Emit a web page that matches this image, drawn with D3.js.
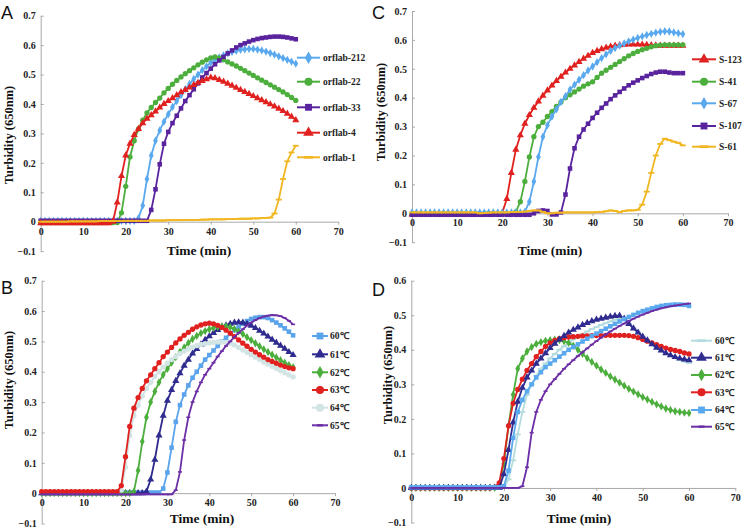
<!DOCTYPE html>
<html><head><meta charset="utf-8">
<script src="https://cdn.jsdelivr.net/npm/d3@7"></script>
<style>body{margin:0;background:#fff}svg{display:block}</style>
</head><body>
<svg id="c" width="743" height="529"></svg>
<script>
// ---------------- DATA ----------------
const minutes = [0,1,2,3,4,5,6,7,8,9,10,11,12,13,14,15,16,17,18,19,20,21,22,23,24,25,26,27,28,29,30,
  31,32,33,34,35,36,37,38,39,40,41,42,43,44,45,46,47,48,49,50,51,52,53,54,55,56,57,58,59,60];
const xTicks = [0,10,20,30,40,50,60,70];
const yTicks7 = [-0.1,0,0.1,0.2,0.3,0.4,0.5,0.6,0.7];
const yTicks6 = [-0.1,0,0.1,0.2,0.3,0.4,0.5,0.6];

// Panel A
const namesA = ["orflab-212","orflab-22","orflab-33","orflab-4","orflab-1"];
const a212 = [0.003,0.003,0.003,0.003,0.003,0.003,0.003,0.003,0.003,0.003,
  0.003,0.003,0.003,0.003,0.003,0.003,0.003,0.003,0.003,0.003,
  0.003,0.003,0.003,0.012,0.055,0.145,0.225,0.275,0.31,0.34,
  0.365,0.39,0.41,0.43,0.45,0.468,0.485,0.5,0.515,0.528,
  0.54,0.55,0.558,0.565,0.572,0.577,0.581,0.584,0.586,0.587,
  0.587,0.585,0.582,0.578,0.573,0.568,0.562,0.556,0.55,0.544,0.537];
const a22 = [-0.003,-0.003,-0.003,-0.003,-0.003,-0.003,-0.003,-0.003,-0.003,-0.003,
  -0.003,-0.003,-0.003,-0.003,-0.003,-0.003,-0.003,-0.003,-0.003,0.03,
  0.12,0.22,0.275,0.315,0.345,0.37,0.388,0.405,0.42,0.438,
  0.453,0.467,0.48,0.492,0.503,0.513,0.523,0.533,0.542,0.55,
  0.557,0.56,0.556,0.55,0.543,0.536,0.529,0.521,0.513,0.505,
  0.497,0.489,0.481,0.473,0.465,0.457,0.449,0.441,0.432,0.422,0.412];
const a33 = [0.003,0.003,0.003,0.003,0.003,0.003,0.003,0.003,0.003,0.003,
  0.003,0.003,0.003,0.003,0.003,0.003,0.003,0.003,0.003,0.003,
  0.003,0.003,0.003,0.003,0.003,0.003,0.04,0.11,0.195,0.265,
  0.305,0.335,0.36,0.385,0.41,0.43,0.45,0.47,0.49,0.505,
  0.52,0.535,0.548,0.56,0.572,0.582,0.592,0.6,0.606,0.612,
  0.617,0.621,0.624,0.626,0.628,0.629,0.629,0.628,0.626,0.623,0.62];
const a4 = [-0.005,-0.005,-0.005,-0.005,-0.005,-0.005,-0.005,-0.005,-0.005,-0.005,
  -0.005,-0.005,-0.005,-0.005,-0.005,-0.005,-0.005,0.0,0.065,0.155,
  0.225,0.265,0.295,0.315,0.335,0.35,0.362,0.375,0.388,0.4,
  0.41,0.42,0.43,0.44,0.448,0.456,0.465,0.472,0.478,0.484,
  0.49,0.488,0.482,0.476,0.469,0.462,0.455,0.448,0.441,0.434,
  0.427,0.42,0.413,0.406,0.399,0.392,0.384,0.376,0.367,0.357,0.345];
const a1 = [0,0,0,0,0,0,0,0.001,0.001,0.001,
  0.001,0.001,0.001,0.001,0.002,0.002,0.002,0.002,0.002,0.002,
  0.003,0.003,0.003,0.003,0.003,0.003,0.004,0.004,0.004,0.004,
  0.005,0.005,0.005,0.005,0.006,0.006,0.006,0.006,0.007,0.007,
  0.008,0.008,0.008,0.008,0.009,0.009,0.009,0.01,0.01,0.01,
  0.011,0.011,0.012,0.013,0.014,0.028,0.075,0.145,0.205,0.235,0.258];

// Panel C
const namesC = ["S-123","S-41","S-67","S-107","S-61"];
const c123 = [-0.004,-0.004,-0.004,-0.004,-0.004,-0.004,-0.004,-0.004,-0.004,-0.004,
  -0.004,-0.004,-0.004,-0.004,-0.004,-0.004,-0.004,-0.004,-0.004,-0.004,
  0.002,0.05,0.14,0.22,0.27,0.31,0.34,0.365,0.387,0.407,
  0.425,0.442,0.458,0.473,0.487,0.5,0.512,0.524,0.535,0.545,
  0.555,0.562,0.568,0.573,0.577,0.58,0.582,0.583,0.584,0.584,
  0.584,0.584,0.583,0.582,0.581,0.58,0.58,0.58,0.58,0.58,0.58];
const c41 = [-0.002,-0.002,-0.002,-0.002,-0.002,-0.002,-0.002,-0.002,-0.002,-0.002,
  -0.002,-0.002,-0.002,-0.002,-0.002,-0.002,-0.002,-0.002,-0.002,-0.002,
  -0.002,-0.002,-0.002,0.005,0.04,0.11,0.195,0.265,0.3,0.315,
  0.335,0.352,0.37,0.385,0.4,0.41,0.42,0.43,0.44,0.448,
  0.455,0.47,0.485,0.495,0.505,0.515,0.525,0.535,0.545,0.553,
  0.56,0.566,0.571,0.576,0.58,0.582,0.583,0.583,0.583,0.583,0.583];
const c67 = [0.003,0.003,0.003,0.003,0.003,0.003,0.003,0.003,0.003,0.003,
  0.003,0.003,0.003,0.003,0.003,0.003,0.003,0.003,0.003,0.003,
  0.003,0.003,0.003,0.003,0.003,0.005,0.04,0.11,0.195,0.265,
  0.305,0.335,0.36,0.385,0.405,0.428,0.445,0.462,0.478,0.494,
  0.508,0.523,0.537,0.55,0.562,0.572,0.58,0.588,0.595,0.601,
  0.607,0.612,0.617,0.621,0.625,0.628,0.63,0.629,0.626,0.623,0.62];
const c107 = [-0.005,-0.005,-0.005,-0.005,-0.005,-0.005,-0.005,-0.005,-0.005,-0.005,
  -0.005,-0.005,-0.005,-0.005,-0.005,-0.005,-0.005,-0.005,-0.005,-0.005,
  -0.005,-0.005,-0.005,-0.005,-0.005,-0.005,-0.005,0.0,0.008,0.01,
  0.008,-0.004,-0.004,0.003,0.065,0.155,0.225,0.265,0.29,0.31,
  0.33,0.348,0.365,0.38,0.395,0.408,0.42,0.432,0.443,0.452,
  0.46,0.468,0.475,0.482,0.487,0.49,0.49,0.487,0.485,0.485,0.485];
const c61 = [0.003,0.003,0.003,0.003,0.003,0.003,0.003,0.003,0.003,0.003,
  0.003,0.003,0.003,0.003,0.003,0.0,0.001,0.002,0.003,0.003,
  0.003,0.003,0.004,0.004,0.005,0.006,0.008,0.01,0.01,0.005,
  0.0,0.0,0.002,0.002,0.003,0.003,0.003,0.003,0.003,0.003,
  0.003,0.004,0.005,0.007,0.01,0.008,0.004,0.008,0.01,0.01,
  0.012,0.03,0.075,0.14,0.2,0.24,0.258,0.253,0.248,0.244,0.235];

// Panel B
const namesB = ["60℃","61℃","62℃","63℃","64℃","65℃"];
const b60 = [0.002,0.002,0.002,0.002,0.002,0.002,0.002,0.002,0.002,0.002,
  0.002,0.002,0.002,0.002,0.002,0.002,0.002,0.002,0.002,0.002,
  0.002,0.002,0.002,0.002,0.002,0.002,0.002,0.002,0.002,0.015,
  0.068,0.15,0.235,0.29,0.325,0.355,0.38,0.4,0.42,0.44,
  0.455,0.47,0.485,0.5,0.512,0.525,0.537,0.548,0.558,0.567,
  0.574,0.578,0.58,0.58,0.577,0.57,0.562,0.553,0.543,0.532,0.52];
const b61 = [0,0,0,0,0,0,0,0,0,0,
  0,0,0,0,0,0,0,0,0,0,
  0,0,0,0,0,0.005,0.045,0.11,0.19,0.255,
  0.305,0.34,0.37,0.395,0.42,0.44,0.46,0.475,0.49,0.505,
  0.517,0.528,0.538,0.546,0.553,0.558,0.562,0.563,0.562,0.558,
  0.552,0.544,0.535,0.526,0.516,0.506,0.496,0.486,0.476,0.465,0.455];
const b62 = [0,0,0,0,0,0,0,0,0,0,
  0,0,0,0,0,0,0,0,0,0,
  0,0,0.005,0.075,0.17,0.25,0.3,0.335,0.365,0.39,
  0.41,0.43,0.448,0.465,0.48,0.495,0.508,0.518,0.527,0.534,
  0.54,0.545,0.548,0.55,0.55,0.547,0.541,0.533,0.524,0.514,
  0.504,0.494,0.484,0.474,0.465,0.456,0.447,0.438,0.43,0.422,0.415];
const b63 = [0.005,0.005,0.005,0.005,0.005,0.005,0.005,0.005,0.005,0.005,
  0.005,0.005,0.005,0.005,0.005,0.005,0.005,0.005,0.005,0.025,
  0.12,0.22,0.28,0.315,0.345,0.37,0.39,0.41,0.43,0.45,
  0.465,0.48,0.495,0.508,0.52,0.53,0.54,0.548,0.554,0.558,
  0.56,0.558,0.553,0.546,0.537,0.527,0.516,0.505,0.494,0.484,
  0.474,0.465,0.456,0.448,0.44,0.434,0.428,0.422,0.417,0.413,0.41];
const b64 = [0.005,0.005,0.005,0.005,0.005,0.005,0.005,0.005,0.005,0.005,
  0.005,0.005,0.005,0.005,0.005,0.005,0.005,0.005,0.005,0.01,
  0.085,0.19,0.255,0.29,0.32,0.345,0.365,0.385,0.4,0.415,
  0.428,0.44,0.45,0.46,0.468,0.475,0.481,0.486,0.49,0.493,
  0.495,0.497,0.498,0.498,0.497,0.494,0.488,0.48,0.472,0.464,
  0.456,0.448,0.44,0.432,0.425,0.418,0.411,0.404,0.397,0.39,0.383];
const b65 = [-0.004,-0.004,-0.004,-0.004,-0.004,-0.004,-0.004,-0.004,-0.004,-0.004,
  -0.004,-0.004,-0.004,-0.004,-0.004,-0.004,-0.004,-0.004,-0.004,-0.004,
  -0.004,-0.004,-0.004,-0.004,-0.004,-0.004,-0.004,-0.004,-0.004,-0.004,
  -0.004,-0.004,0.01,0.07,0.175,0.25,0.3,0.335,0.365,0.39,
  0.41,0.43,0.45,0.468,0.485,0.5,0.515,0.528,0.54,0.552,
  0.562,0.57,0.577,0.582,0.585,0.587,0.586,0.583,0.577,0.568,0.556];

// Panel D
const namesD = ["60℃","61℃","62℃","63℃","64℃","65℃"];
const d60 = [0.002,0.002,0.002,0.002,0.002,0.002,0.002,0.002,0.002,0.002,
  0.002,0.002,0.002,0.002,0.002,0.002,0.002,0.002,0.002,0.002,
  0.002,0.025,0.08,0.155,0.22,0.27,0.3,0.325,0.345,0.36,
  0.375,0.388,0.4,0.41,0.42,0.43,0.438,0.446,0.453,0.46,
  0.466,0.472,0.477,0.482,0.487,0.49,0.486,0.475,0.462,0.45,
  0.438,0.427,0.416,0.406,0.397,0.389,0.382,0.376,0.371,0.366,0.362];
const d61 = [0,0,0,0,0,0,0,0,0,0,
  0,0,0,0,0,0,0,0,0,0,
  0.04,0.11,0.19,0.25,0.29,0.32,0.34,0.36,0.375,0.39,
  0.405,0.418,0.43,0.44,0.45,0.458,0.465,0.472,0.478,0.483,
  0.487,0.49,0.493,0.496,0.498,0.499,0.49,0.475,0.462,0.45,
  0.438,0.427,0.416,0.406,0.398,0.39,0.384,0.379,0.375,0.372,0.37];
const d62 = [0,0,0,0,0,0,0,0,0,0,
  0,0,0,0,0,0,0,0,0,0.01,
  0.07,0.18,0.27,0.345,0.375,0.395,0.408,0.417,0.422,0.426,
  0.428,0.429,0.428,0.425,0.42,0.412,0.4,0.388,0.376,0.365,
  0.354,0.343,0.333,0.323,0.314,0.305,0.296,0.287,0.279,0.271,
  0.263,0.256,0.249,0.242,0.236,0.23,0.226,0.222,0.22,0.218,0.217];
const d63 = [0,0,0,0,0,0,0,0,0,0,
  0,0,0,0,0,0,0,0,0.002,0.015,
  0.085,0.18,0.245,0.285,0.315,0.34,0.36,0.38,0.395,0.41,
  0.42,0.427,0.432,0.435,0.437,0.438,0.439,0.44,0.44,0.441,
  0.441,0.441,0.442,0.442,0.442,0.442,0.442,0.441,0.439,0.435,
  0.43,0.425,0.42,0.415,0.41,0.405,0.401,0.398,0.395,0.391,0.388];
const d64 = [0.002,0.002,0.002,0.002,0.002,0.002,0.002,0.002,0.002,0.002,
  0.002,0.002,0.002,0.002,0.002,0.002,0.002,0.002,0.002,0.002,
  0.005,0.05,0.145,0.22,0.255,0.28,0.3,0.32,0.335,0.35,
  0.36,0.37,0.38,0.39,0.4,0.408,0.416,0.424,0.432,0.44,
  0.447,0.454,0.461,0.468,0.475,0.482,0.489,0.495,0.501,0.507,
  0.512,0.516,0.52,0.524,0.527,0.529,0.53,0.531,0.531,0.53,0.527];
const d65 = [0,0,0,0,0,0,0,0,0,0,
  0,0,0,0,0,0,0,0,0,0,
  0,0,0,0,0.005,0.06,0.16,0.22,0.255,0.28,
  0.3,0.315,0.33,0.345,0.358,0.37,0.382,0.393,0.404,0.415,
  0.425,0.435,0.444,0.453,0.461,0.469,0.476,0.483,0.49,0.496,
  0.502,0.507,0.512,0.516,0.52,0.523,0.526,0.528,0.53,0.532,0.534];

// ---------------- STYLE / LAYOUT ----------------
const COL = {
  lblue:"#5aa9ef", green:"#4cae3c", violet:"#5a239e", red:"#e0211f", yellow:"#f1b722",
  navy:"#2f2b8f", pale:"#d2e4e4", cyan:"#b4dcdf", purple:"#6c2fa6", sqblue:"#5ba3ea"
};

const panels = [
  { letter:"A", lx:1, ly:19, x0:40.7, x70:338.3, yTop:15.7, yBot:251.1, yMax:0.7, yTicks:yTicks7,
    xTitle:[199,255], yTitle:[9,135],
    legend:{x1:297, x2:320, tx:323, rows:[57.7,81.7,107.3,132.7,157.3]},
    series:[
      {name:namesA[0], v:a212, color:COL.lblue, mk:"diamond"},
      {name:namesA[1], v:a22, color:COL.green, mk:"circle"},
      {name:namesA[2], v:a33, color:COL.violet, mk:"square"},
      {name:namesA[3], v:a4, color:COL.red, mk:"triangle"},
      {name:namesA[4], v:a1, color:COL.yellow, mk:"dash"} ]},
  { letter:"C", lx:372, ly:19, x0:412, x70:728, yTop:11, yBot:242.2, yMax:0.7, yTicks:yTicks7,
    xTitle:[550,255], yTitle:[381,112],
    legend:{x1:692, x2:716, tx:719, rows:[59.3,81.7,103.3,126,146.7]},
    series:[
      {name:namesC[0], v:c123, color:COL.red, mk:"triangle"},
      {name:namesC[1], v:c41, color:COL.green, mk:"circle"},
      {name:namesC[2], v:c67, color:COL.lblue, mk:"diamond"},
      {name:namesC[3], v:c107, color:COL.violet, mk:"square"},
      {name:namesC[4], v:c61, color:COL.yellow, mk:"dash"} ]},
  { letter:"B", lx:1, ly:294, x0:41.7, x70:335, yTop:280.7, yBot:523.5, yMax:0.7, yTicks:yTicks7,
    xTitle:[202,523], yTitle:[9,380],
    legend:{x1:312, x2:328, tx:330, rows:[336,354.3,372.3,390,407.7,425.3]},
    series:[
      {name:namesB[0], v:b60, color:COL.sqblue, mk:"square"},
      {name:namesB[1], v:b61, color:COL.navy, mk:"triangle"},
      {name:namesB[2], v:b62, color:COL.green, mk:"diamond"},
      {name:namesB[4], v:b64, color:COL.pale, mk:"circle"},
      {name:namesB[3], v:b63, color:COL.red, mk:"circle"},
      {name:namesB[5], v:b65, color:COL.purple, mk:"tick"} ],
    legendOrder:[0,1,2,4,3,5]},
  { letter:"D", lx:372, ly:296, x0:411.3, x70:735.3, yTop:280.7, yBot:522.5, yMax:0.6, yTicks:yTicks6,
    xTitle:[579,523], yTitle:[388,375],
    legend:{x1:691, x2:712, tx:715, rows:[340.7,357.7,375,392.3,410,426.7]},
    series:[
      {name:namesD[0], v:d60, color:COL.cyan, mk:"dash"},
      {name:namesD[2], v:d62, color:COL.green, mk:"diamond"},
      {name:namesD[3], v:d63, color:COL.red, mk:"circle"},
      {name:namesD[1], v:d61, color:COL.navy, mk:"triangle"},
      {name:namesD[4], v:d64, color:COL.lblue, mk:"square"},
      {name:namesD[5], v:d65, color:COL.purple, mk:"tick"} ],
    legendOrder:[0,3,1,2,4,5]}
];

const svg = d3.select("#c");
const SERIF = "'Liberation Serif','Times New Roman',serif";

function marker(g, mk, color, big) {
  const s = big ? 1.5 : 1;
  if (mk === "dash") {
    return g.append("rect").attr("x",-3*s).attr("y",-0.9*s).attr("width",6*s).attr("height",1.8*s).attr("fill",color);
  }
  if (mk === "tick") {
    return g.append("rect").attr("x",-2*s).attr("y",-0.8*s).attr("width",4*s).attr("height",1.6*s).attr("fill",color);
  }
  const types = {circle:d3.symbolCircle, square:d3.symbolSquare, triangle:d3.symbolTriangle, diamond:d3.symbolDiamond};
  const sizes = {circle:22, square:21, triangle:22, diamond:20};
  return g.append("path").attr("d", d3.symbol().type(types[mk]).size(sizes[mk]*s*s)()).attr("fill",color);
}

panels.forEach(p => {
  const x = d3.scaleLinear().domain([0,70]).range([p.x0, p.x70]);
  const y = d3.scaleLinear().domain([-0.1, p.yMax]).range([p.yBot, p.yTop]);
  const g = svg.append("g");

  // axes
  const yAxis = d3.axisLeft(y).tickValues(p.yTicks).tickSizeInner(-3).tickSizeOuter(0).tickPadding(5)
    .tickFormat(d => Math.abs(d) < 1e-9 ? "0" : d3.format(".1f")(d));
  const ya = g.append("g").attr("transform",`translate(${p.x0},0)`).call(yAxis);
  const xAxis = d3.axisBottom(x).tickValues(xTicks).tickSizeInner(3).tickSizeOuter(0).tickPadding(3);
  const xa = g.append("g").attr("transform",`translate(0,${y(0)})`).call(xAxis);
  [ya, xa].forEach(a => {
    a.attr("font-family", null);
    a.select(".domain").attr("stroke","#a9a9a9").attr("stroke-width",1);
    a.selectAll(".tick line").attr("stroke","#a9a9a9");
    a.selectAll("text").style("font-family",SERIF).style("font-weight","bold").style("font-size","10px").attr("fill","#222");
  });

  // series
  const line = d3.line().x((d,i)=>x(minutes[i])).y(d=>y(d));
  p.series.forEach(s => {
    const sg = g.append("g");
    sg.append("path").attr("d", line(s.v)).attr("fill","none").attr("stroke",s.color).attr("stroke-width",1.8);
    s.v.forEach((v,i) => {
      const mg = sg.append("g").attr("transform",`translate(${x(minutes[i])},${y(v)})`);
      marker(mg, s.mk, s.color, false);
    });
  });

  // legend
  const order = p.legendOrder || p.series.map((d,i)=>i);
  order.forEach((si, k) => {
    const s = p.series[si];
    const ry = p.legend.rows[k];
    g.append("line").attr("x1",p.legend.x1).attr("x2",p.legend.x2).attr("y1",ry).attr("y2",ry)
      .attr("stroke",s.color).attr("stroke-width",2);
    const mg = g.append("g").attr("transform",`translate(${(p.legend.x1+p.legend.x2)/2},${ry})`);
    marker(mg, s.mk, s.color, true);
    g.append("text").attr("x",p.legend.tx).attr("y",ry).attr("dy","0.35em")
      .style("font-family",SERIF).style("font-weight","bold").style("font-size","9.5px").attr("fill","#222").text(s.name);
  });

  // titles
  g.append("text").attr("x",p.xTitle[0]).attr("y",p.xTitle[1]).attr("text-anchor","middle")
    .style("font-family",SERIF).style("font-weight","bold").style("font-size","13.5px").attr("fill","#111").text("Time (min)");
  g.append("text").attr("transform",`translate(${p.yTitle[0]},${p.yTitle[1]}) rotate(-90)`).attr("text-anchor","middle")
    .attr("dy","0.35em").style("font-family",SERIF).style("font-weight","bold").style("font-size","12.5px").attr("fill","#111")
    .text("Turbidity (650nm)");
  g.append("text").attr("x",p.lx).attr("y",p.ly).style("font-family","'Liberation Sans',Arial,sans-serif")
    .style("font-size","18px").attr("fill","#111").text(p.letter);
});
</script>
</body></html>
